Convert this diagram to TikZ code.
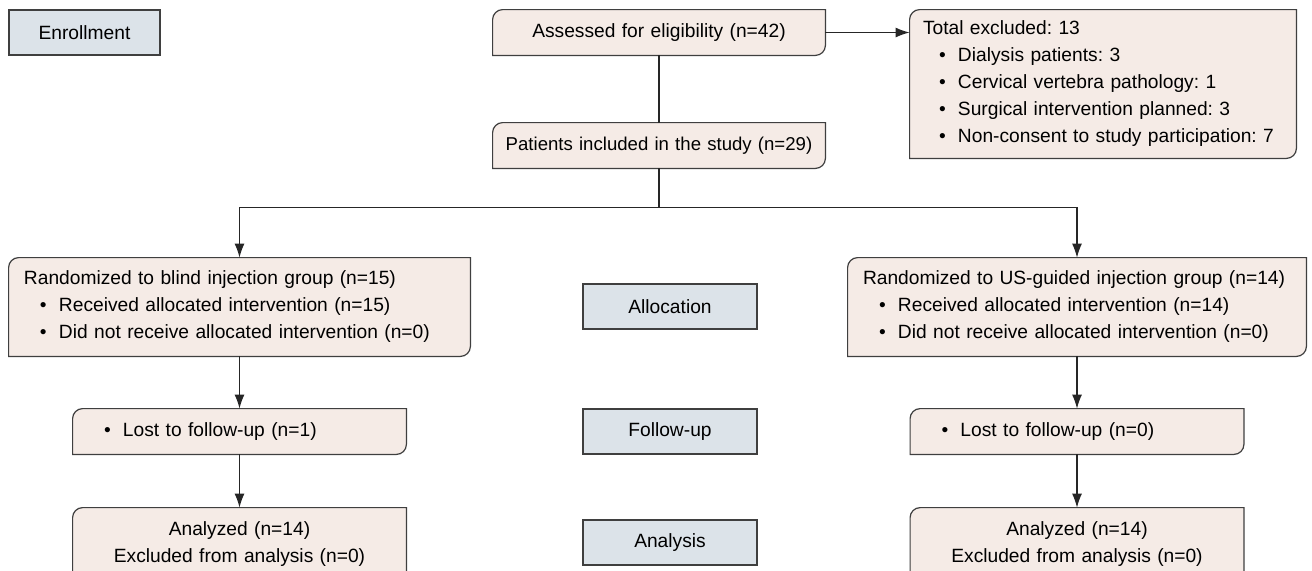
\documentclass[tikz,border=0pt]{standalone}
\usepackage{fontspec}
\setmainfont{Liberation Sans}
\usetikzlibrary{arrows.meta, backgrounds, positioning}
\frenchspacing

\definecolor{boxpink}{HTML}{F5EBE6}
\definecolor{boxblue}{HTML}{DCE3E9}
\definecolor{edgegrey}{HTML}{3F3F3F}

% bullet line inside a box
\newcommand{\itm}[1]{\hspace*{8pt}\makebox[9.5pt][l]{\textbullet}#1}
% box with rounded top-left and bottom-right corners, drawn behind a node
\newcommand{\cutbox}[2]{%
  \draw[draw=edgegrey, fill=#2, line width=0.6pt]
    (#1.south west) -- ([yshift=-5pt]#1.north west)
    arc[start angle=180, end angle=90, radius=5pt] -- (#1.north east)
    -- ([yshift=5pt]#1.south east)
    arc[start angle=0, end angle=-90, radius=5pt] -- cycle;}

\begin{document}
\begin{tikzpicture}[x=0.5pt, y=-0.5pt, >={Latex[length=7pt, width=5pt]}, font=\fontsize{9.6}{13.5}\selectfont,
    stage/.style={draw=edgegrey, fill=boxblue, line width=0.6pt, minimum width=87pt, minimum height=22.5pt, inner sep=0pt},
    flow/.style={inner xsep=7.5pt, inner ysep=0pt, minimum height=22.5pt},
    link/.style={draw=black!85, line width=0.6pt}]
    \useasboundingbox (0,0) rectangle (1312,570);

    % stage labels
    \node[stage, minimum width=75.5pt] (enroll) at (84.5,32.5) {Enrollment};
    \node[stage] (alloc) at (670,306.5) {Allocation};
    \node[stage] (follow) at (670,431.5) {Follow-up};
    \node[stage] (analysis) at (670,542.5) {Analysis};

    % enrollment
    \node[flow, text width=151pt, align=center] (assess) at (659,32.5) {Assessed for eligibility (n=42)};
    \node[flow, text width=180pt, align=left, minimum height=74pt, inner xsep=6.5pt] (excl) at (1103,84)
        {Total excluded: 13\\
         \itm{Dialysis patients: 3}\\
         \itm{Cervical vertebra pathology: 1}\\
         \itm{Surgical intervention planned: 3}\\
         \itm{Non-consent to study participation: 7}};
    \node[flow, text width=160pt, inner xsep=3pt, align=center, font=\fontsize{9.3}{13.5}\selectfont] (incl) at (659,145.5)
        {Patients included in the study (n=29)};
    \coordinate[below=19.5pt of incl.south] (fork);

    % allocation
    \node[flow, text width=215.5pt, align=left, minimum height=49pt] (blind) at (239.5,307)
        {Randomized to blind injection group (n=15)\\
         \itm{Received allocated intervention (n=15)}\\
         \itm{Did not receive allocated intervention (n=0)}};
    \node[flow, text width=214pt, align=left, minimum height=49pt] (usg) at (1077,307)
        {Randomized to US-guided injection group (n=14)\\
         \itm{Received allocated intervention (n=14)}\\
         \itm{Did not receive allocated intervention (n=0)}};

    % follow-up
    \node[flow, text width=151.5pt, align=left] (lostb) at (239.5,431.5) {\itm{Lost to follow-up (n=1)}};
    \node[flow, text width=151.5pt, align=left] (lostu) at (1077,431.5) {\itm{Lost to follow-up (n=0)}};

    % analysis
    \node[flow, text width=151.5pt, align=center, minimum height=36.5pt] (anab) at (239.5,544.5)
        {Analyzed (n=14)\\ Excluded from analysis (n=0)};
    \node[flow, text width=151.5pt, align=center, minimum height=36.5pt] (anau) at (1077,544.5)
        {Analyzed (n=14)\\ Excluded from analysis (n=0)};

    \begin{scope}[on background layer]
        \foreach \n in {assess, excl, incl, blind, usg, lostb, lostu, anab, anau}
            \cutbox{\n}{boxpink};
    \end{scope}

    \draw[link, ->] (assess.east) -- (assess.east -| excl.west);
    \draw[link] (assess.south) -- (incl.north);
    \draw[link] (incl.south) -- (fork);
    \draw[link, ->] (fork) -| (blind.north);
    \draw[link, ->] (fork) -| (usg.north);
    \draw[link, ->] (blind.south) -- (lostb.north);
    \draw[link, ->] (lostb.south) -- (anab.north);
    \draw[link, ->] (usg.south) -- (lostu.north);
    \draw[link, ->] (lostu.south) -- (anau.north);
\end{tikzpicture}
\end{document}
